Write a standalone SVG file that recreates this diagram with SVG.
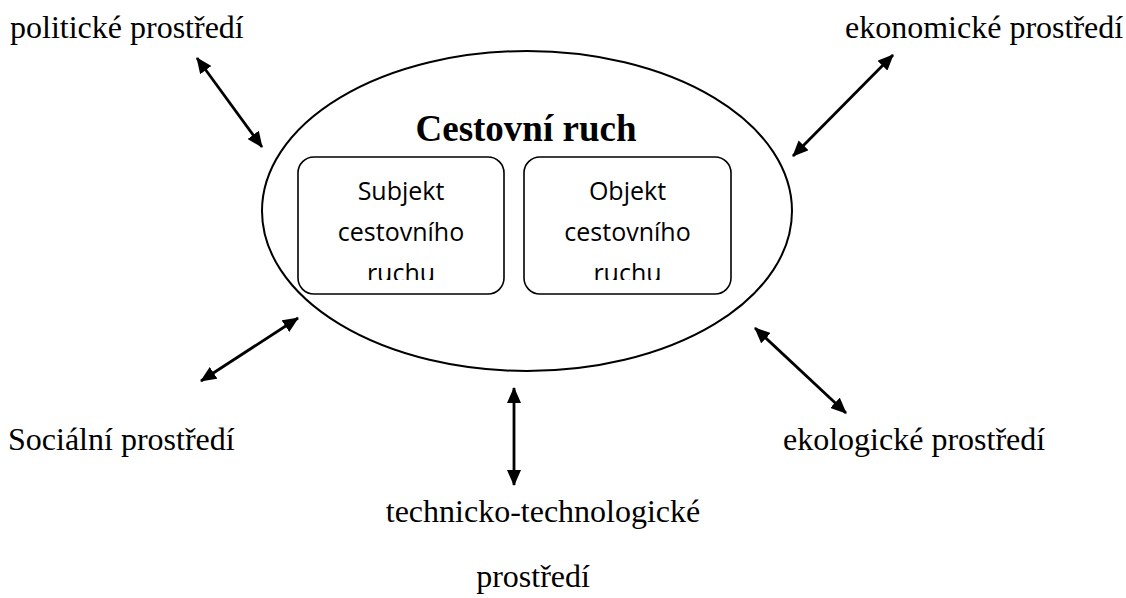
<svg xmlns="http://www.w3.org/2000/svg" width="1126" height="598" viewBox="0 0 1126 598">
<style>
.lbl{font-family:"Liberation Serif","Times New Roman",serif;font-size:32px;fill:#000}
.ttl{font-family:"Liberation Serif","Times New Roman",serif;font-size:37px;font-weight:bold;fill:#000}
.box{fill:#fff;stroke:#000;stroke-width:1.6}
.bt{font-family:"Open Sans","Noto Sans",sans-serif;font-size:25px;fill:#000;text-anchor:middle}
.arr{stroke:#000;stroke-width:2.8;fill:none;marker-start:url(#ah);marker-end:url(#ah)}
</style>
<defs>
<marker id="ah" viewBox="0 0 16 14" refX="15" refY="7" markerWidth="16" markerHeight="14" markerUnits="userSpaceOnUse" orient="auto-start-reverse">
<path d="M0,0 L16,7 L0,14 Z" fill="#000"/>
</marker>
<clipPath id="clipS"><rect x="298" y="157" width="206" height="123"/></clipPath>
<clipPath id="clipO"><rect x="524" y="157" width="207" height="123"/></clipPath>
</defs>
<rect width="1126" height="598" fill="#fff"/>
<g id="cestovni-ruch">
<ellipse cx="527" cy="211" rx="265" ry="160" fill="none" stroke="#000" stroke-width="2"/>
<text class="ttl" x="526" y="141" text-anchor="middle">Cestovní ruch</text>
</g>
<g id="subjekt">
<rect class="box" x="298" y="157" width="206" height="137" rx="16"/>
<g clip-path="url(#clipS)">
<text class="bt" x="401" y="200">Subjekt</text>
<text class="bt" x="401" y="241">cestovního</text>
<text class="bt" x="401" y="282">ruchu</text>
</g>
</g>
<g id="objekt">
<rect class="box" x="524" y="157" width="207" height="137" rx="16"/>
<g clip-path="url(#clipO)">
<text class="bt" x="627.5" y="200">Objekt</text>
<text class="bt" x="627.5" y="241">cestovního</text>
<text class="bt" x="627.5" y="282">ruchu</text>
</g>
</g>
<g id="politicke"><text class="lbl" x="10" y="38">politické prostředí</text></g>
<g id="ekonomicke"><text class="lbl" x="845" y="38">ekonomické prostředí</text></g>
<g id="socialni"><text class="lbl" x="8" y="450">Sociální prostředí</text></g>
<g id="ekologicke"><text class="lbl" x="783" y="450">ekologické prostředí</text></g>
<g id="technicke">
<text class="lbl" x="543" y="522" text-anchor="middle">technicko-technologické</text>
<text class="lbl" x="533" y="587" text-anchor="middle">prostředí</text>
</g>
<g id="connectors">
<line class="arr" x1="197" y1="58" x2="262" y2="147"/>
<line class="arr" x1="893" y1="55" x2="793" y2="156"/>
<line class="arr" x1="298" y1="318" x2="201" y2="381"/>
<line class="arr" x1="755" y1="328" x2="846" y2="413"/>
<line class="arr" x1="514" y1="388" x2="514" y2="485"/>
</g>
</svg>
